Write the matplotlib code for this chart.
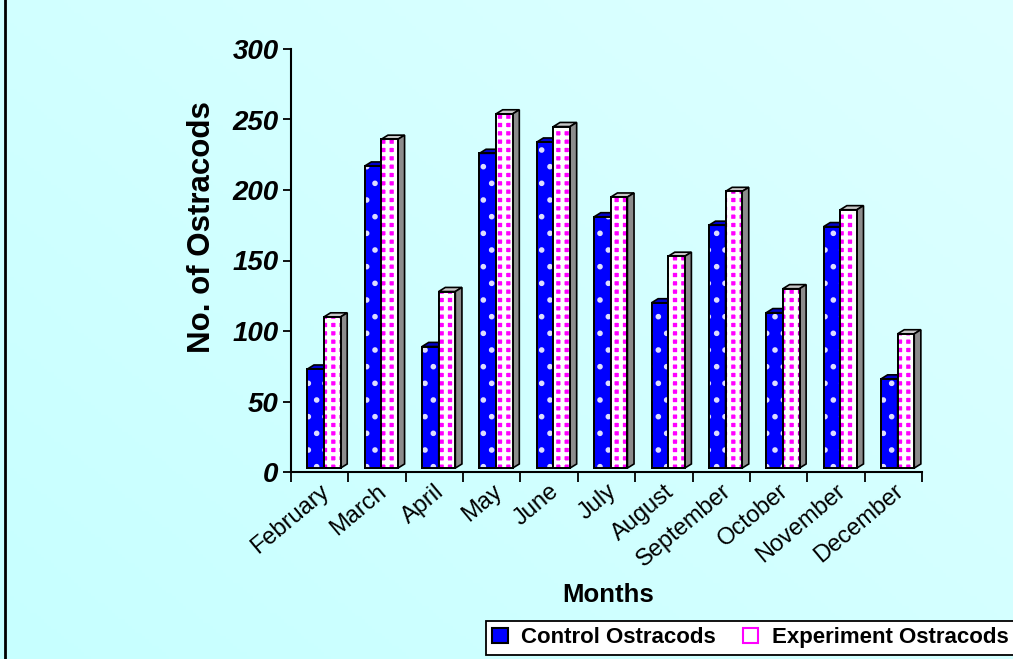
import numpy as np
import matplotlib
matplotlib.use("Agg")
import matplotlib.pyplot as plt
from matplotlib.patches import Polygon, Patch

# Monthly ostracod counts
months = ["February", "March", "April", "May", "June", "July",
          "August", "September", "October", "November", "December"]
control = [73, 217, 89, 226, 234, 181, 120, 175, 113, 174, 66]
experiment = [110, 236, 128, 254, 245, 195, 153, 199, 130, 186, 98]
series_names = ["Control Ostracods", "Experiment Ostracods"]
yticks = [0, 50, 100, 150, 200, 250, 300]

plt.rcParams['font.family'] = ['Liberation Sans', 'DejaVu Sans']
plt.rcParams['hatch.linewidth'] = 2.0

W, H = 1013, 659
fig = plt.figure(figsize=(W / 100, H / 100), dpi=100)

# soft cyan gradient background
bg = fig.add_axes([0, 0, 1, 1], zorder=-10)
yy, xx = np.mgrid[0:1:200j, 0:1:300j]
grad = 0.55 * xx + 0.45 * yy
c0 = np.array([0.78, 1.0, 1.0])
c1 = np.array([0.87, 1.0, 1.0])
img = c0[None, None, :] * (1 - grad[..., None]) + c1[None, None, :] * grad[..., None]
bg.imshow(img, origin='lower', extent=[0, 1, 0, 1], aspect='auto')
bg.set_axis_off()
bg.plot([0.005, 0.005], [0, 1], color='black', lw=2, transform=bg.transAxes, clip_on=False)

left, right = 291 / W, 922 / W
bottom, top = 1 - 472 / H, 1 - 49 / H
ax = fig.add_axes([left, bottom, right - left, top - bottom])
ax.set_facecolor('none')
n = len(months)
ax.set_xlim(0, n)
ax.set_ylim(0, 300)

x = np.arange(n)
c_off, e_off, bw = 0.285, 0.575, 0.29
dx, dy = 0.115, 2.9
base = 2.8   # floor of the 3D box sits slightly above the axis line


def set_hlw(container, lw):
    for p in container:
        if hasattr(p, 'set_hatch_linewidth'):
            p.set_hatch_linewidth(lw)


def draw_bar(x0, v, front, hatch, hatch_col, hlw, top_col, side_col, z):
    ax.bar(x0, v - base, bw, bottom=base, align='edge', color=front, edgecolor='black', lw=1.4, zorder=z)
    b = ax.bar(x0, v - base, bw, bottom=base, align='edge', fill=False, hatch=hatch,
               edgecolor=hatch_col, lw=0, zorder=z + 0.1)
    set_hlw(b, hlw)
    ax.bar(x0, v - base, bw, bottom=base, align='edge', fill=False, edgecolor='black', lw=1.4, zorder=z + 0.2)
    topface = [(x0, v), (x0 + dx, v + dy), (x0 + bw + dx, v + dy), (x0 + bw, v)]
    side = [(x0 + bw, base), (x0 + bw + dx, base + dy), (x0 + bw + dx, v + dy), (x0 + bw, v)]
    ax.add_patch(Polygon(topface, closed=True, facecolor=top_col, edgecolor='black', lw=1.2, zorder=z))
    ax.add_patch(Polygon(side, closed=True, facecolor=side_col, edgecolor='black', lw=1.2, zorder=z))


for i in range(n):
    # control: blue face with pale dots; experiment: magenta squares separated by white grid lines
    draw_bar(x[i] + c_off, control[i], '#0000FF', '.', '#DDDDFF', 1.6, '#0000CC', '#000099', 3 + i)
    draw_bar(x[i] + e_off, experiment[i], '#FF00FF', '++', 'white', 2.9, '#C8C8C8', '#8C8C8C', 3.5 + i)

for s in ['top', 'right']:
    ax.spines[s].set_visible(False)
for s in ['left', 'bottom']:
    ax.spines[s].set_linewidth(1.5)
    ax.spines[s].set_color('black')

ax.set_yticks(yticks)
ax.set_yticklabels([str(t) for t in yticks], fontsize=20, fontweight='bold', fontstyle='italic')
ax.tick_params(axis='y', direction='out', length=6, width=1.3, pad=3)

ax.set_xticks(np.arange(n + 1))
ax.set_xticklabels([])
ax.tick_params(axis='x', which='major', direction='out', length=7, width=1.3)
ax.set_xticks(x + 0.5, minor=True)
ax.set_xticklabels(months, minor=True, rotation=40, ha='right', va='top',
                   rotation_mode='anchor', fontsize=17)
ax.tick_params(axis='x', which='minor', length=0, pad=6)

ax.set_ylabel("No. of Ostracods", fontsize=22.5, fontweight='bold')
ax.yaxis.set_label_coords(-0.117, 0.58)
fig.text(608 / W, 1 - 595 / H, "Months", fontsize=18.5, fontweight='bold', ha='center', va='center')

handles = [Patch(facecolor='#0000FF', edgecolor='black'),
           Patch(facecolor='white', edgecolor='#FF00FF')]
leg = fig.legend(handles, series_names, loc='lower right', bbox_to_anchor=(1.002, 0.006),
                 ncol=2, frameon=True, fancybox=False, framealpha=1, facecolor='white',
                 edgecolor='black', prop={'weight': 'bold', 'size': 16},
                 handlelength=0.7, handleheight=0.7, handletextpad=0.6, columnspacing=1.2,
                 borderpad=0.3, borderaxespad=0)
leg.get_frame().set_linewidth(1.3)
for h in leg.legend_handles:
    h.set_linewidth(1.5)

fig.savefig("out.png", dpi=100)
